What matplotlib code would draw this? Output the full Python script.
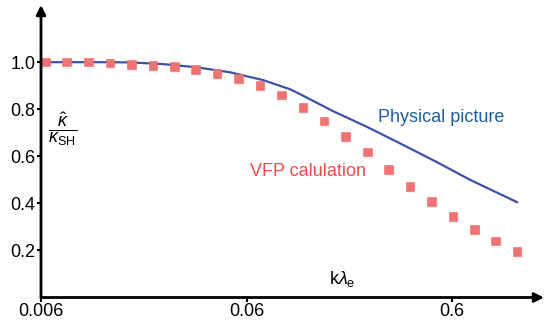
import numpy as np
import matplotlib.pyplot as plt
import matplotlib.patheffects as pe

plt.rcParams['font.family'] = ['Liberation Sans', 'DejaVu Sans']
plt.rcParams['mathtext.fontset'] = 'custom'
plt.rcParams['mathtext.rm'] = 'Liberation Sans'
plt.rcParams['mathtext.it'] = 'Liberation Sans:italic'
plt.rcParams['mathtext.sf'] = 'Liberation Sans'

DPI = 100

# VFP calculation (squares)
k_vfp = [0.0063, 0.0080, 0.0102, 0.0130, 0.0165, 0.0210, 0.0267, 0.0339,
         0.0431, 0.0548, 0.0697, 0.0886, 0.113, 0.143, 0.182, 0.232,
         0.295, 0.374, 0.476, 0.605, 0.769, 0.978, 1.243]
kappa_vfp = [1.0, 1.0, 1.0, 0.997, 0.991, 0.987, 0.982, 0.969,
             0.953, 0.931, 0.901, 0.86, 0.808, 0.75, 0.685, 0.618,
             0.545, 0.472, 0.408, 0.345, 0.289, 0.24, 0.196]

# Physical picture (line)
k_phys = [0.006, 0.0116, 0.0163, 0.0235, 0.0345, 0.0499, 0.0722, 0.0977,
          0.1093, 0.158, 0.2314, 0.335, 0.507, 0.734, 1.243]
kappa_phys = [1.0, 1.0, 0.999, 0.992, 0.978, 0.957, 0.924, 0.885,
              0.864, 0.792, 0.725, 0.655, 0.575, 0.50, 0.405]

xticks = [0.006, 0.06, 0.6]
xticklabels = ['0.006', '0.06', '0.6']
yticks = [0.2, 0.4, 0.6, 0.8, 1.0]

fig = plt.figure(figsize=(544/DPI, 322/DPI), dpi=DPI)
ax = fig.add_axes([41/544, 24.5/322, 503/544, 292.5/322])
ax.set_xscale('log')
ax.set_xlim(0.006, 1.68)
ax.set_ylim(0, 1.243)

ax.plot(k_phys, kappa_phys, color='#3d52a6', lw=1.6, zorder=2)
ax.plot(k_vfp, kappa_vfp, ls='none', marker='s', ms=6.2,
        mfc='#f07373', mec='#e86868', mew=0.4, zorder=3, clip_on=False,
        path_effects=[pe.SimpleLineShadow(offset=(0.6, -0.9), alpha=0.2,
                                          shadow_color='gray'),
                      pe.Normal()])

# axes with arrows
for s in ax.spines.values():
    s.set_visible(False)
ax.annotate('', xy=(1.0, 0), xytext=(0, 0), xycoords='axes fraction',
            arrowprops=dict(arrowstyle='-|>', lw=2, color='black',
                            mutation_scale=14, shrinkA=0, shrinkB=0))
ax.annotate('', xy=(0, 1.0), xytext=(0, 0), xycoords='axes fraction',
            arrowprops=dict(arrowstyle='-|>', lw=2, color='black',
                            mutation_scale=14, shrinkA=0, shrinkB=0))

ax.set_xticks(xticks)
ax.set_xticklabels(xticklabels)
ax.xaxis.set_minor_locator(plt.NullLocator())
ax.set_yticks(yticks)
ax.set_yticklabels([f'{v:.1f}' for v in yticks])
ax.tick_params(axis='both', direction='out', length=3, width=1.5,
               labelsize=13, pad=1)

ax.text(0.0065, 0.715, r'$\dfrac{\hat{\kappa}}{\kappa_{\mathrm{SH}}}$',
        fontsize=13, ha='left', va='center')
ax.text(0.151, 0.035, r'k$\lambda_{\mathrm{e}}$', fontsize=13,
        ha='left', va='bottom')
ax.text(0.262, 0.766, 'Physical picture', color='#1d5e9f',
        fontsize=13, ha='left', va='center')
ax.text(0.0624, 0.535, 'VFP calulation', color='#f04a4a',
        fontsize=13, ha='left', va='center')

plt.savefig('out.png', dpi=DPI)
